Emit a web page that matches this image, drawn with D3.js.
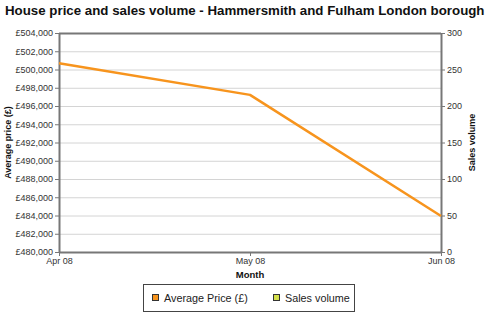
<!DOCTYPE html>
<html>
<head>
<meta charset="utf-8">
<script src="https://cdn.jsdelivr.net/npm/d3@7/dist/d3.min.js"></script>
<style>
  html, body { margin: 0; padding: 0; background: #fff; }
  svg { display: block; font-family: "Liberation Sans", Arial, sans-serif; }
</style>
</head>
<body>
<svg id="chart" width="491" height="326"></svg>
<script>
// Monthly figures for the borough
const months = ["Apr 08", "May 08", "Jun 08"];
const avgPrice = [500680, 497220, 483950];
const salesVolume = [null, null, null];
const priceTicks = d3.range(480000, 504001, 2000);
const volumeTicks = [0, 50, 100, 150, 200, 250, 300];

const svg = d3.select("#chart");
const plotLeft = 59, plotRight = 441, plotTop = 33, plotBottom = 252;

const x = d3.scalePoint().domain(months).range([plotLeft, plotRight]);
const yPrice = d3.scaleLinear().domain([480000, 504000]).range([plotBottom, plotTop]);
const yVol = d3.scaleLinear().domain([0, 300]).range([plotBottom, plotTop]);

const fmtPrice = d => "£" + d3.format(",")(d);

// Title
svg.append("text")
  .attr("x", 5).attr("y", 15)
  .attr("font-size", 13.3).attr("font-weight", "bold").attr("fill", "#111")
  .text("House price and sales volume - Hammersmith and Fulham London borough");

// Horizontal gridlines
svg.append("g").selectAll("line").data(priceTicks.slice(1, -1)).join("line")
  .attr("x1", plotLeft).attr("x2", plotRight)
  .attr("y1", d => yPrice(d) + 0.5).attr("y2", d => yPrice(d) + 0.5)
  .attr("stroke", "#d4d4d4").attr("stroke-width", 1);

// Frame top line
svg.append("line").attr("x1", plotLeft).attr("x2", plotRight)
  .attr("y1", plotTop + 0.5).attr("y2", plotTop + 0.5)
  .attr("stroke", "#777").attr("stroke-width", 2);

const axisStyle = g => {
  g.selectAll(".domain").attr("stroke", "#777").attr("stroke-width", 2);
  g.selectAll(".tick line").attr("stroke", "#777");
  g.selectAll(".tick text").attr("fill", "#333").attr("font-size", 9)
    .attr("font-family", "'Liberation Sans', Arial, sans-serif");
};

// Left price axis
svg.append("g").attr("transform", `translate(${plotLeft},0)`)
  .call(d3.axisLeft(yPrice).tickValues(priceTicks).tickFormat(fmtPrice).tickSize(4).tickSizeOuter(0).tickPadding(2))
  .call(axisStyle);

// Right volume axis
svg.append("g").attr("transform", `translate(${plotRight},0)`)
  .call(d3.axisRight(yVol).tickValues(volumeTicks).tickSize(4).tickSizeOuter(0).tickPadding(2))
  .call(axisStyle);

// Bottom month axis
svg.append("g").attr("transform", `translate(0,${plotBottom})`)
  .call(d3.axisBottom(x).tickSize(4).tickSizeOuter(0).tickPadding(2))
  .call(axisStyle);

// Axis titles
svg.append("text")
  .attr("transform", `translate(11,${(plotTop + plotBottom) / 2}) rotate(-90)`)
  .attr("text-anchor", "middle").attr("font-size", 9).attr("font-weight", "bold").attr("fill", "#111")
  .text("Average price (£)");
svg.append("text")
  .attr("transform", `translate(475,${(plotTop + plotBottom) / 2}) rotate(-90)`)
  .attr("text-anchor", "middle").attr("font-size", 9).attr("font-weight", "bold").attr("fill", "#111")
  .text("Sales volume");
svg.append("text")
  .attr("x", (plotLeft + plotRight) / 2).attr("y", 278)
  .attr("text-anchor", "middle").attr("font-size", 9.5).attr("font-weight", "bold").attr("fill", "#111")
  .text("Month");

// Average price line
const priceLine = d3.line().x((d, i) => x(months[i])).y(d => yPrice(d));
svg.append("path").datum(avgPrice)
  .attr("d", priceLine).attr("fill", "none")
  .attr("stroke", "#f7941d").attr("stroke-width", 2.5).attr("stroke-linejoin", "round");

// Sales volume line (no recorded values)
const volLine = d3.line().defined(d => d != null).x((d, i) => x(months[i])).y(d => yVol(d));
svg.append("path").datum(salesVolume)
  .attr("d", volLine).attr("fill", "none")
  .attr("stroke", "#c8d62e").attr("stroke-width", 2.5);

// Legend
const legend = svg.append("g");
legend.append("rect").attr("x", 143.5).attr("y", 284.5).attr("width", 211).attr("height", 27)
  .attr("fill", "#fff").attr("stroke", "#444").attr("stroke-width", 1);
const items = [
  { label: "Average Price (£)", color: "#f7941d", x: 152 },
  { label: "Sales volume", color: "#d4e04a", x: 273 }
];
items.forEach(it => {
  legend.append("rect").attr("x", it.x + 0.5).attr("y", 294.5).attr("width", 6).attr("height", 6)
    .attr("fill", it.color).attr("stroke", "#333").attr("stroke-width", 1);
  legend.append("text").attr("x", it.x + 12).attr("y", 302)
    .attr("font-size", 10.8).attr("fill", "#222").text(it.label);
});
</script>
</body>
</html>
